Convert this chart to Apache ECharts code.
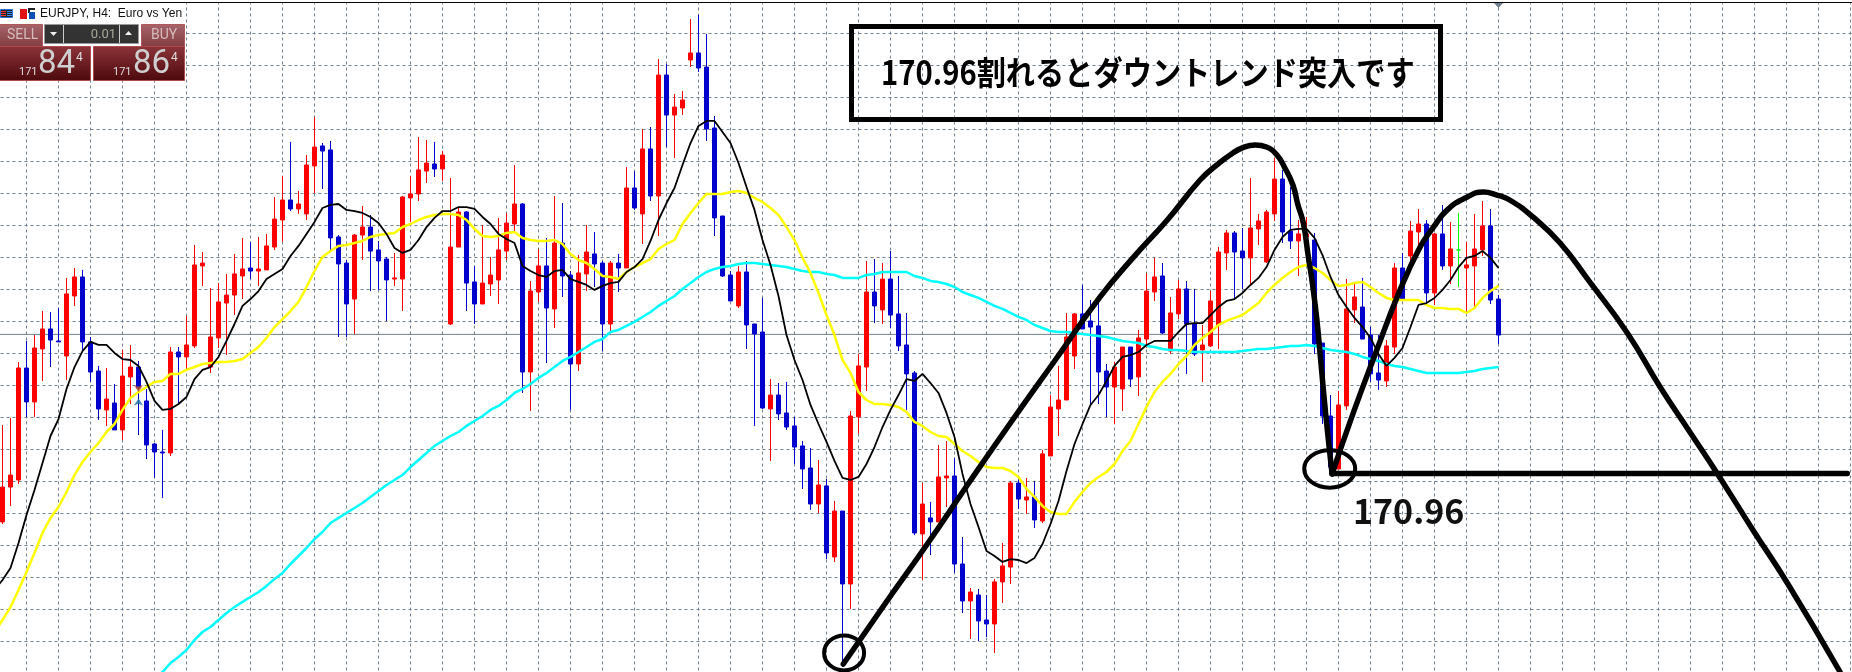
<!DOCTYPE html>
<html lang="ja">
<head>
    <meta charset="UTF-8">
    <title>EURJPY H4</title>
    <script src="https://cdn.jsdelivr.net/npm/echarts@6/dist/echarts.min.js"></script>
    <style>
        html, body { margin: 0; padding: 0; background: #fff; }
        #main { width: 1852px; height: 672px; }
    </style>
</head>
<body>
<div id="main"></div>
<script>
// H4 bars, oldest first
var opens = [170.668,170.886,170.93,171.63,171.418,171.749,171.874,171.799,171.705,172.08,172.199,171.793,171.611,171.368,171.411,171.243,171.574,171.636,171.424,171.155,171.105,171.099,171.73,171.699,171.768,172.268,171.636,171.818,172.036,172.086,172.205,172.255,172.236,172.243,172.386,172.555,172.68,172.624,172.593,172.893,173.018,172.993,172.449,172.286,172.061,172.461,172.511,172.368,172.311,172.186,172.186,172.693,172.718,172.861,172.905,172.874,171.905,172.386,172.605,172.168,172.03,172.155,172.18,172.361,172.53,172.655,171.605,172.105,172.268,171.999,172.411,172.211,171.655,172.218,172.343,172.286,171.905,172.286,172.255,172.755,172.593,172.999,172.705,173.461,173.211,173.255,173.555,173.599,173.511,173.13,172.58,172.211,172.018,172.23,171.905,171.855,171.374,171.461,171.349,171.268,171.143,171.005,170.78,170.893,170.449,170.736,170.28,171.324,171.636,172.105,171.993,172.186,171.968,171.774,171.599,170.593,170.693,170.668,170.943,170.955,170.405,170.174,170.211,170.055,170.03,170.293,170.386,170.911,170.805,170.824,170.674,171.08,171.374,171.43,171.705,171.968,171.924,171.893,171.611,171.511,171.499,171.761,171.574,171.811,172.105,172.205,171.736,171.968,172.124,171.905,171.743,171.768,171.899,172.349,172.474,172.361,172.318,172.499,172.293,172.593,172.811,172.486,172.424,172.449,172.43,171.786,171.33,170.999,171.393,171.993,172.011,171.836,171.599,171.549,171.761,172.255,172.33,172.48,172.53,172.099,172.468,172.268,172.368,172.255,172.268,172.368,172.518,172.061];
var closes = [170.886,170.961,171.63,171.418,171.755,171.874,171.805,171.793,172.093,172.199,171.793,171.605,171.374,171.436,171.243,171.58,171.636,171.505,171.149,171.105,171.099,171.73,171.699,171.774,172.274,172.286,171.824,172.043,172.086,172.218,172.249,172.236,172.249,172.393,172.561,172.68,172.624,172.655,172.899,173.011,172.986,172.443,172.28,172.03,172.461,172.511,172.361,172.299,172.18,172.193,172.699,172.718,172.868,172.911,172.874,172.961,172.386,172.605,172.161,172.03,172.161,172.211,172.368,172.536,172.655,171.605,172.111,172.268,172.005,172.411,172.205,171.655,172.224,172.355,172.28,171.905,172.286,172.255,172.755,172.63,172.999,172.705,173.461,173.211,173.261,173.305,173.599,173.505,173.124,172.568,172.205,172.049,172.23,171.899,171.843,171.38,171.461,171.343,171.261,171.136,170.999,170.78,170.899,170.474,170.736,170.28,171.33,171.643,172.105,172.018,172.186,171.961,171.768,171.593,170.599,170.78,170.668,170.949,170.955,170.405,170.174,170.23,170.049,170.03,170.293,170.393,170.911,170.811,170.824,170.68,171.093,171.386,171.43,171.824,171.968,171.874,171.886,171.605,171.511,171.636,171.761,171.561,171.818,172.111,172.199,171.849,171.974,172.124,171.905,171.718,171.774,172.049,172.355,172.474,172.355,172.318,172.505,172.549,172.605,172.811,172.48,172.424,172.468,172.468,171.78,171.33,171.011,171.399,171.999,172.074,171.811,171.593,171.555,171.768,172.255,172.055,172.486,172.53,172.099,172.468,172.268,172.374,172.368,172.274,172.374,172.518,172.055,171.836];
var lows = [170.655,170.768,170.905,171.324,171.324,171.549,171.636,171.793,171.555,172.018,171.736,171.543,171.305,171.268,171.243,171.18,171.405,171.211,171.061,170.943,170.818,171.08,171.405,171.618,171.755,172.143,171.599,171.755,171.711,171.961,172.061,172.186,172.143,172.243,172.368,172.418,172.611,172.593,172.555,172.724,172.749,172.361,171.824,171.824,171.843,172.305,172.111,172.118,171.924,172.143,171.986,172.543,172.674,172.786,172.824,172.799,171.899,172.386,171.986,171.905,172.03,172.08,172.03,172.305,172.486,171.474,171.361,172.043,171.661,171.88,172.074,171.368,171.611,172.111,172.136,171.736,171.855,172.105,172.255,172.618,172.405,172.674,172.455,173.011,172.943,173.211,173.511,173.48,173.049,172.455,172.199,172.049,172.005,171.749,171.268,171.374,171.049,171.305,171.243,171.03,170.874,170.743,170.724,170.436,170.418,169.761,170.124,171.218,171.486,171.911,171.905,171.88,171.736,171.368,170.586,170.305,170.461,170.668,170.761,170.349,170.099,169.936,169.924,169.949,169.849,170.161,170.28,170.749,170.718,170.63,170.661,171.08,171.205,171.43,171.624,171.874,171.399,171.405,171.324,171.28,171.361,171.511,171.455,171.755,172.049,171.843,171.718,171.936,171.593,171.705,171.543,171.761,171.749,172.243,172.055,172.124,172.143,172.399,172.286,172.549,172.411,172.374,172.205,172.449,171.718,171.28,170.986,170.999,171.368,171.911,171.811,171.543,171.493,171.511,171.718,172.055,172.274,172.336,172.036,172.024,172.243,172.155,172.136,171.98,172.011,172.33,172.03,171.78];
var highs = [171.274,171.318,171.668,171.799,171.836,171.986,171.98,172.005,172.193,172.255,172.243,171.824,171.643,171.63,171.53,171.743,171.774,171.674,171.499,171.161,171.243,171.761,171.761,171.955,172.399,172.355,172.13,172.161,172.218,172.343,172.443,172.418,172.449,172.468,172.699,172.83,173.043,172.736,172.961,173.199,173.036,173.049,172.461,172.305,172.468,172.643,172.586,172.424,172.324,172.349,172.705,172.83,173.074,173.055,173.043,172.986,172.818,172.63,172.611,172.268,172.524,172.324,172.568,172.599,172.899,172.661,172.174,172.374,172.443,172.705,172.661,172.236,172.336,172.524,172.48,172.299,172.299,172.343,172.886,172.861,173.124,173.136,173.561,173.53,173.343,173.361,173.811,173.836,173.718,173.205,172.58,172.236,172.268,172.299,171.905,172.068,171.561,171.536,171.543,171.324,171.174,171.13,171.055,170.936,170.799,170.736,171.361,171.718,172.299,172.311,172.286,172.361,172.205,171.974,171.611,170.911,170.793,171.149,171.174,171.068,170.574,170.255,170.249,170.211,170.311,170.536,170.924,170.936,170.943,170.924,171.118,171.461,171.643,171.974,171.974,172.149,172.055,172.055,171.655,171.668,171.761,171.761,171.868,172.224,172.318,172.286,172.074,172.18,172.174,172.124,171.899,172.111,172.386,172.493,172.486,172.505,172.818,172.593,172.618,172.943,172.868,172.761,172.555,172.574,172.474,171.786,171.461,171.486,172.186,172.155,172.193,171.886,171.836,171.805,172.286,172.349,172.549,172.624,172.555,172.474,172.649,172.543,172.599,172.418,172.593,172.674,172.624,172.086];

// moving averages, first value belongs to the bar just left of the window
var maBlack = [170.243,170.305,170.38,170.536,170.711,170.868,171.036,171.205,171.311,171.499,171.636,171.736,171.793,171.774,171.774,171.724,171.686,171.68,171.643,171.543,171.424,171.368,171.374,171.405,171.449,171.561,171.618,171.636,171.699,171.799,171.905,172.018,172.061,172.111,172.186,172.218,172.249,172.33,172.393,172.468,172.543,172.63,172.649,172.655,172.618,172.611,172.599,172.574,172.536,172.468,172.38,172.349,172.368,172.43,172.511,172.568,172.611,172.611,172.636,172.636,172.624,172.574,172.53,172.468,172.436,172.411,172.268,172.236,172.211,172.199,172.236,172.243,172.186,172.168,172.149,172.118,172.143,172.161,172.168,172.23,172.261,172.311,172.424,172.555,172.661,172.755,172.899,173.036,173.143,173.174,173.174,173.105,173.036,172.911,172.761,172.618,172.43,172.274,172.08,171.836,171.68,171.555,171.399,171.28,171.168,171.049,170.943,170.93,170.949,171.03,171.136,171.261,171.368,171.461,171.561,171.549,171.593,171.536,171.474,171.349,171.199,170.968,170.78,170.636,170.486,170.455,170.418,170.436,170.43,170.411,170.443,170.53,170.655,170.799,170.986,171.155,171.28,171.399,171.461,171.549,171.643,171.699,171.711,171.73,171.774,171.799,171.799,171.799,171.855,171.905,171.911,171.911,171.961,172.011,172.049,172.061,172.099,172.149,172.193,172.261,172.368,172.449,172.493,172.499,172.499,172.443,172.336,172.199,172.086,172.011,171.943,171.886,171.818,171.718,171.643,171.693,171.755,171.886,172.024,172.036,172.068,172.118,172.18,172.261,172.318,172.33,172.361,172.318,172.255];
var maYellow = [169.98,170.055,170.136,170.243,170.355,170.474,170.599,170.693,170.761,170.855,170.961,171.043,171.105,171.161,171.23,171.28,171.368,171.443,171.48,171.511,171.543,171.549,171.593,171.593,171.618,171.636,171.655,171.661,171.668,171.668,171.674,171.686,171.724,171.761,171.818,171.886,171.936,171.986,172.043,172.136,172.236,172.324,172.361,172.393,172.399,172.411,172.424,172.449,172.461,172.468,172.474,172.511,172.53,172.555,172.574,172.586,172.593,172.593,172.586,172.555,172.499,172.455,172.449,172.455,172.474,172.48,172.443,172.43,172.424,172.424,172.43,172.405,172.343,172.305,172.286,172.249,172.205,172.199,172.186,172.23,172.261,172.286,172.311,172.374,172.405,172.43,172.53,172.599,172.661,172.718,172.718,172.718,172.73,172.736,172.724,172.693,172.668,172.63,172.586,172.511,172.43,172.318,172.224,172.099,171.961,171.836,171.68,171.599,171.48,171.43,171.405,171.405,171.399,171.386,171.355,171.293,171.268,171.23,171.205,171.199,171.155,171.111,171.08,171.043,171.011,171.005,171.005,170.986,170.949,170.874,170.824,170.768,170.73,170.718,170.718,170.793,170.855,170.911,170.949,170.98,171.03,171.111,171.174,171.28,171.386,171.48,171.543,171.593,171.655,171.705,171.774,171.818,171.855,171.899,171.924,171.943,171.961,171.999,172.036,172.099,172.149,172.193,172.23,172.261,172.274,172.255,172.224,172.18,172.143,172.149,172.161,172.168,172.136,172.099,172.068,172.055,172.055,172.055,172.055,172.024,172.005,172.005,171.999,171.999,171.974,172.005,172.068,172.111,172.143];
// slow average comes into view at bar 19
var maCyanFirstBar = 19;
var maCyan = [169.68,169.73,169.786,169.824,169.868,169.93,169.98,170.011,170.055,170.099,170.136,170.168,170.199,170.23,170.268,170.311,170.349,170.405,170.455,170.505,170.561,170.605,170.661,170.693,170.724,170.755,170.786,170.824,170.861,170.899,170.93,170.961,171.011,171.055,171.099,171.143,171.174,171.205,171.23,171.268,171.299,171.33,171.368,171.393,171.43,171.474,171.499,171.53,171.568,171.599,171.636,171.674,171.699,171.73,171.761,171.793,171.811,171.855,171.868,171.893,171.918,171.949,171.98,172.018,172.049,172.08,172.124,172.161,172.199,172.23,172.249,172.261,172.268,172.28,172.286,172.286,172.28,172.274,172.268,172.261,172.249,172.236,172.23,172.23,172.218,172.211,172.193,172.193,172.193,172.211,172.218,172.23,172.23,172.23,172.23,172.205,172.193,172.174,172.168,172.155,172.136,172.105,172.086,172.068,172.043,172.018,171.999,171.974,171.949,171.93,171.899,171.88,171.861,171.855,171.855,171.849,171.843,171.836,171.83,171.824,171.811,171.799,171.793,171.786,171.768,171.761,171.749,171.743,171.743,171.736,171.73,171.73,171.73,171.73,171.73,171.73,171.736,171.743,171.749,171.749,171.755,171.761,171.768,171.768,171.774,171.768,171.755,171.743,171.736,171.73,171.718,171.699,171.686,171.674,171.655,171.643,171.636,171.624,171.611,171.599,171.599,171.599,171.599,171.599,171.605,171.611,171.624,171.63,171.636];

var lastBid = 171.84;
var greenBar = 182;
var arrowBar = 17;
var arrowSell = 171.48;
var arrowBuy = 171.44;

// hand drawn lines on top of the chart: bar position, price
var drawnRise = [[105.1,169.78],[110.3,170.155],[115.6,170.53],[120.7,170.905],[125.9,171.28],[131.6,171.68],[137.2,172.074],[141.3,172.318],[145.6,172.555],[149.7,172.805],[151.8,172.899],[153.8,172.974],[155.2,173.011],[156.6,173.024],[158,173.011],[159.3,172.961],[160.3,172.88],[161.3,172.774],[161.9,172.655],[162.6,172.536],[163.2,172.336],[163.8,172.136],[164.3,171.93],[164.7,171.718],[165.4,171.343],[166.2,170.968]];
var drawnFall = [[166.2,170.968],[168.8,171.343],[171.6,171.718],[174.7,172.118],[177.2,172.386],[178.8,172.505],[180.6,172.618],[183.1,172.699],[185.1,172.73],[186.8,172.711],[188.4,172.68],[191.3,172.574],[194.7,172.411],[198.4,172.168],[203.1,171.849],[207.2,171.511],[211,171.224],[214.7,170.943],[218.8,170.618],[223.1,170.286],[229.7,169.73]];
var drawnLevel = [[166.2,170.971],[230.6,170.971]];
var drawnRings = [[105.2,169.849],[165.9,170.999]];

var titleText = '170.96割れるとダウントレンド突入です';
var levelText = '170.96';
var symbolText = 'EURJPY, H4:  Euro vs Yen';

var barLabels = [];
for (var n = -1; n <= 232; n++) { barLabels.push(String(n)); }

var candles = ['-'];
opens.forEach(function (o, i) {
    var v = [o, closes[i], lows[i], highs[i]];
    if (i === greenBar) {
        candles.push({ value: v, itemStyle: { color: '#00ff00', color0: '#00ff00', borderColor: '#00ff00', borderColor0: '#00ff00', borderColorDoji: '#00ff00' } });
    } else {
        candles.push(v);
    }
});

function withBars(values, firstBar) {
    return values.map(function (v, i) { return [i + firstBar, v]; });
}

function maSeries(name, data, color, width) {
    return {
        name: name, type: 'line', xAxisIndex: 1, yAxisIndex: 0, data: data,
        symbol: 'none', silent: true, z: 5, clip: false,
        lineStyle: { color: color, width: width }
    };
}

function drawnSeries(data) {
    return {
        type: 'line', xAxisIndex: 1, yAxisIndex: 0, data: data,
        symbol: 'none', silent: true, z: 8, smooth: 0.5,
        lineStyle: { color: '#000', width: 5.5, cap: 'round', join: 'round' }
    };
}

function panelFill(top, bottom) {
    return { type: 'linear', x: 0, y: 0, x2: 0, y2: 1, colorStops: [{ offset: 0, color: top }, { offset: 1, color: bottom }] };
}

function txt(x, y, text, size, color, align, family) {
    return {
        type: 'text', x: x, y: y, z: 21,
        style: { text: text, font: size + 'px ' + (family || 'Roboto'), fill: color, align: align || 'left', verticalAlign: 'middle' }
    };
}

function box(x, y, w, h, fill, stroke) {
    return { type: 'rect', z: 20, shape: { x: x, y: y, width: w, height: h }, style: { fill: fill, stroke: stroke || 'none', lineWidth: 1 } };
}

var panel = [
    box(0, 0, 186, 81, '#fff'),
    box(0, 0, 1852, 2, '#fff'),
    box(0, 2, 1852, 1, '#000'),
    { type: 'polygon', z: 20, shape: { points: [[1494, 3], [1503, 3], [1498.5, 8]] }, style: { fill: '#708090' } },
    // chart window icons
    box(0.5, 9.5, 12, 8, '#222', '#2a6fe0'),
    box(1, 11, 5, 1, '#f33'), box(1, 13, 5, 1, '#f33'), box(1, 15, 5, 1, '#f33'),
    box(7, 11, 5, 1, '#38f'), box(7, 13, 5, 1, '#38f'), box(7, 15, 5, 1, '#38f'),
    box(20, 9, 7, 10, '#e01010'), box(28, 8, 2, 5, '#222'), box(30, 8, 5, 2, '#222'), box(29, 12, 6, 7, '#0b4fb0'),
    txt(40, 13.5, symbolText, 12, '#111', 'left', '"Liberation Sans"'),
    // sell / buy buttons
    box(-1.5, 24.5, 44, 22, panelFill('#a5666b', '#833b40'), '#b0575b'),
    box(141.5, 24.5, 43, 22, panelFill('#a5666b', '#833b40'), '#b0575b'),
    box(2, 46, 36, 1, '#f0b0b0'), box(144, 46, 37, 1, '#f0b0b0'),
    box(-1.5, 46.5, 92, 34, panelFill('#8c3439', '#4c090d'), '#b04a4e'),
    box(93.5, 46.5, 91, 34, panelFill('#8c3439', '#4c090d'), '#b04a4e'),
    // lot spinner
    box(44.5, 24.5, 94, 19, '#333', '#999'),
    { type: 'line', z: 20, shape: { x1: 63.5, y1: 25, x2: 63.5, y2: 43 }, style: { stroke: '#ccc' } },
    { type: 'line', z: 20, shape: { x1: 119.5, y1: 25, x2: 119.5, y2: 43 }, style: { stroke: '#ccc' } },
    { type: 'polygon', z: 20, shape: { points: [[50, 32], [57, 32], [53.5, 36]] }, style: { fill: '#eee' } },
    { type: 'polygon', z: 20, shape: { points: [[125, 35], [132, 35], [128.5, 31]] }, style: { fill: '#eee' } },
    txt(116, 34.5, '0.01', 13, '#a8a89a', 'right'),
    txt(7, 35, 'SELL', 14, '#d6bcbc'),
    txt(151, 35, 'BUY', 14, '#d6bcbc'),
    txt(19, 72, '171', 11, '#ddd'),
    txt(38, 65, '84', 33, '#cfcfcf'),
    txt(76, 58, '4', 12, '#ddd'),
    txt(113, 72, '171', 11, '#ddd'),
    txt(133, 65, '86', 33, '#cfcfcf'),
    txt(171, 58, '4', 12, '#ddd'),
    // headline box and level label
    { type: 'rect', z: 20, shape: { x: 851.5, y: 26.5, width: 589, height: 93 }, style: { fill: 'none', stroke: '#000', lineWidth: 5 } },
    { type: 'text', z: 21, x: 881, y: 72, scaleX: 0.885, style: { text: titleText, font: 'bold 33px "Noto Sans CJK JP"', fill: '#000', verticalAlign: 'middle' } },
    { type: 'text', z: 21, x: 1353, y: 511, style: { text: levelText, font: 'bold 34px "Noto Sans CJK JP"', fill: '#111', verticalAlign: 'middle' } }
];

var ringSizes = [[20, 17.5], [25.5, 18.7]];

var myChart = echarts.init(document.getElementById('main'), null, { renderer: 'canvas' });
myChart.setOption({
    animation: false,
    backgroundColor: '#fff',
    grid: { left: -5.5, top: 1.5, width: 1864, height: 672, outerBoundsMode: 'none' },
    xAxis: [{
        type: 'category', data: barLabels, boundaryGap: false,
        axisLine: { show: false }, axisTick: { show: false }, axisLabel: { show: false },
        splitLine: {
            show: true,
            interval: function (index) { return index % 4 === 0; },
            lineStyle: { color: '#708090', width: 1, type: [3, 3] }
        }
    }, {
        type: 'value', min: -1, max: 232, show: false
    }],
    yAxis: [{
        type: 'value', min: 169.7206, max: 173.9206,
        axisLine: { show: false }, axisTick: { show: false }, axisLabel: { show: false },
        splitLine: { show: false }
    }, {
        // horizontal chart grid, one step per cell
        type: 'value', min: 0, max: 21, interval: 1,
        axisLine: { show: false }, axisTick: { show: false }, axisLabel: { show: false },
        splitLine: { show: true, lineStyle: { color: '#708090', width: 1, type: [3, 3] } }
    }],
    series: [{
        type: 'line', xAxisIndex: 1, yAxisIndex: 0, symbol: 'none', silent: true, z: 1,
        data: [[-1, lastBid], [232, lastBid]],
        lineStyle: { color: '#708090', width: 1 }
    }, {
        name: 'EURJPY', type: 'candlestick', xAxisIndex: 0, yAxisIndex: 0, data: candles,
        barWidth: 5, silent: true, z: 3,
        itemStyle: { color: '#ff0000', color0: '#0000cd', borderColor: '#ff0000', borderColor0: '#0000cd', borderWidth: 1 }
    },
    maSeries('slow', withBars(maCyan, maCyanFirstBar), '#00ffff', 2.5),
    maSeries('mid', withBars(maYellow, -1), '#ffff00', 2.5),
    maSeries('fast', withBars(maBlack, -1), '#000', 1.8),
    {
        type: 'scatter', xAxisIndex: 1, yAxisIndex: 0, silent: true, z: 6, symbol: 'arrow', symbolSize: 7,
        data: [
            { value: [arrowBar, arrowSell], symbolRotate: 180, itemStyle: { color: '#c8502a' } },
            { value: [arrowBar, arrowBuy], itemStyle: { color: '#1c6ea4' } }
        ]
    },
    drawnSeries(drawnRise),
    drawnSeries(drawnFall),
    drawnSeries(drawnLevel),
    {
        type: 'custom', xAxisIndex: 1, yAxisIndex: 0, silent: true, z: 8, clip: false,
        data: drawnRings,
        renderItem: function (params, api) {
            var c = api.coord([api.value(0), api.value(1)]);
            var s = ringSizes[params.dataIndex];
            return { type: 'ellipse', shape: { cx: c[0], cy: c[1], rx: s[0], ry: s[1] }, style: { fill: 'none', stroke: '#000', lineWidth: 4 } };
        }
    }],
    graphic: panel
});
</script>
</body>
</html>
